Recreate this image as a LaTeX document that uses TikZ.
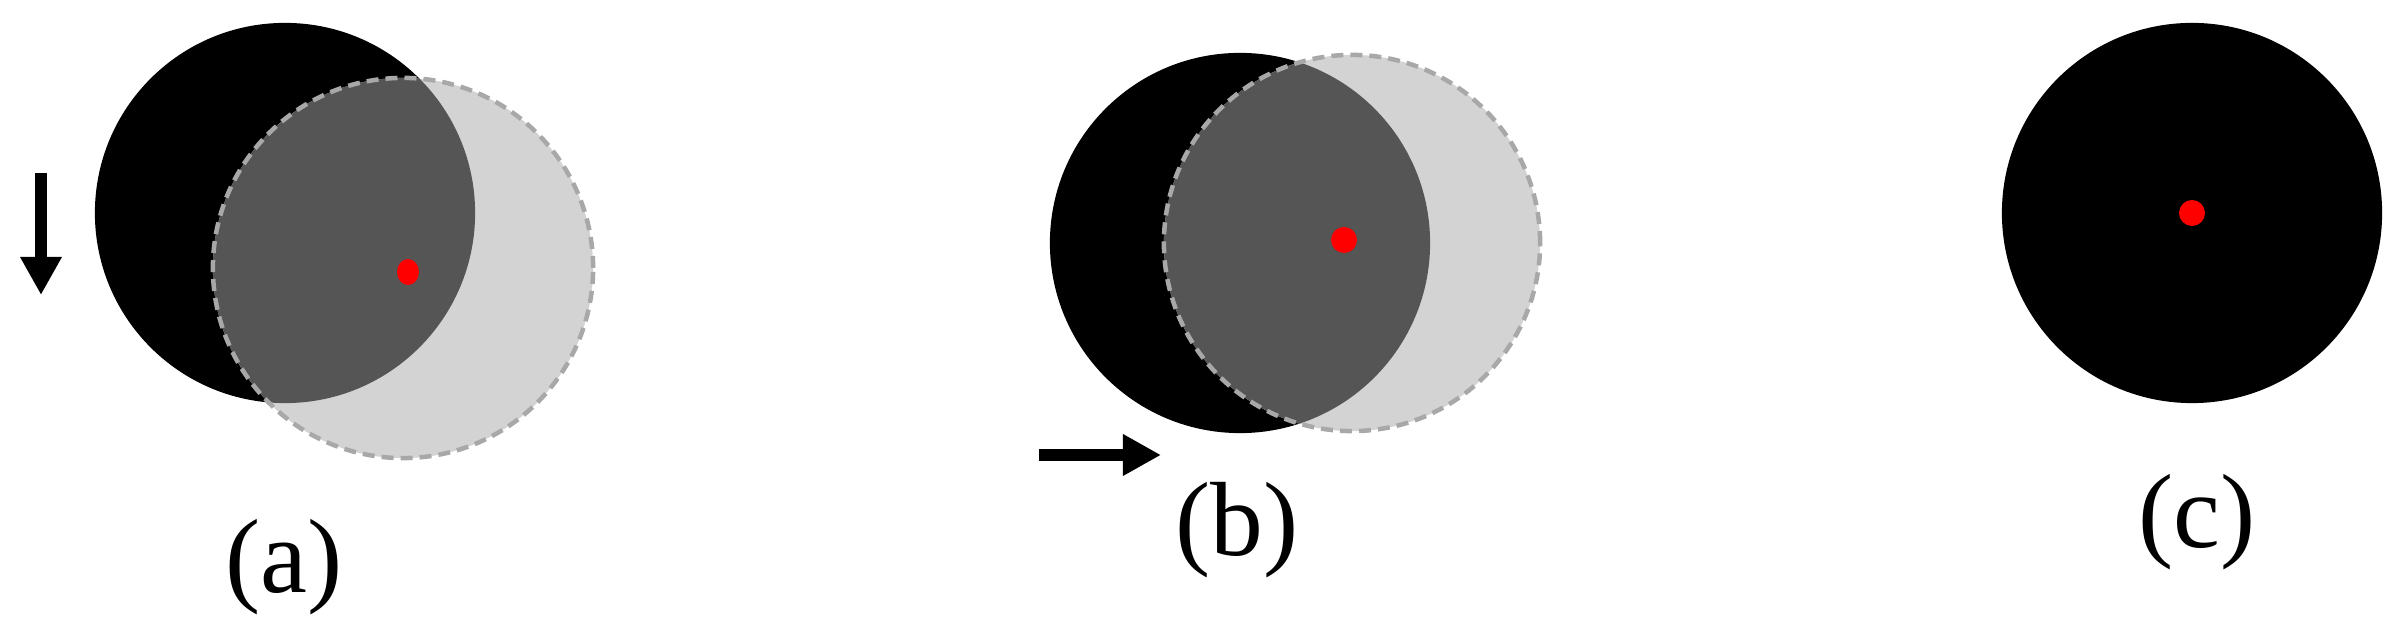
\documentclass[tikz,border=0pt]{standalone}
\usepackage{fontspec}
\setmainfont{Liberation Serif}
\usetikzlibrary{arrows.meta,shapes.geometric}
\definecolor{shade}{HTML}{D3D3D3}
\definecolor{overlap}{HTML}{555555}
\definecolor{rim}{HTML}{A8A8A8}
\begin{document}
\begin{tikzpicture}[x=0.01cm, y=-0.01cm,
    disk/.style={circle,fill=black,minimum size=3.8cm,inner sep=0pt},
    ghost/.style={circle,fill=shade,minimum size=3.8cm,inner sep=0pt},
    rimline/.style={draw=rim,line width=0.045cm,dash pattern=on 0.12cm off 0.07cm},
    dot/.style={circle,fill=red,minimum size=0.26cm,inner sep=0pt},
    move/.style={line width=0.125cm,-{Triangle[width=0.39cm,length=0.38cm]}},
    lbl/.style={inner sep=0pt,font=\fontsize{30}{36}\selectfont}]
  \useasboundingbox (0,0) rectangle (2406,628);

  % (a)
  \node[disk] (ba) at (285,213) {};
  \node[ghost] (ga) at (403,268) {};
  \begin{scope}
    \clip (ba.center) circle (1.9cm);
    \fill[overlap] (ga.center) circle (1.9cm);
  \end{scope}
  \draw[rimline] (ga.center) circle (1.9cm);
  \node[dot,ellipse,minimum width=0.22cm,minimum height=0.26cm] (da) at (408,272) {};
  \coordinate (sa) at (41,173);
  \coordinate (ea) at (41,295);
  \draw[move] (sa) -- (ea);
  \node[lbl] (la) at (284,567) {(a)};

  % (b)
  \node[disk] (bb) at (1240,243) {};
  \node[ghost,minimum size=3.76cm] (gb) at (1352,243) {};
  \begin{scope}
    \clip (bb.center) circle (1.9cm);
    \fill[overlap] (gb.center) circle (1.88cm);
  \end{scope}
  \draw[rimline] (gb.center) circle (1.88cm);
  \node[dot] (db) at (1344,240) {};
  \coordinate (sb) at (1039,455);
  \coordinate (eb) at (1161,455);
  \draw[move] (sb) -- (eb);
  \node[lbl] (lb) at (1237,530) {(b)};

  % (c)
  \node[disk] (bc) at (2192,213) {};
  \node[dot] (dc) at (bc) {};
  \node[lbl] (lc) at (2197,522) {(c)};
\end{tikzpicture}
\end{document}
